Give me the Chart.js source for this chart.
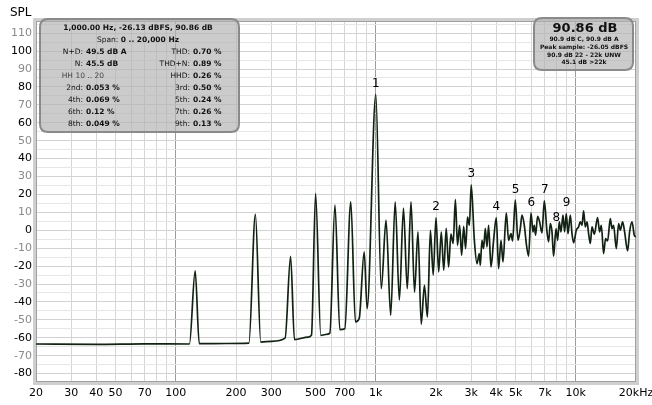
<!DOCTYPE html>
<html>
<head>
<meta charset="utf-8">
<script src="https://cdn.jsdelivr.net/npm/chart.js@4.4.0/dist/chart.umd.min.js"></script>
<style>
  html, body { margin: 0; padding: 0; background: #fff; }
  #wrap { width: 652px; height: 405px; }
</style>
</head>
<body>
<div id="wrap"><canvas id="grafico" width="652" height="405"></canvas></div>
<script>
// spectrum (Hz, dB SPL)
const freqHz = [
  20, 40, 70, 117, 125, 131, 180, 232, 250, 266, 300, 352, 375, 392, 459, 477, 500, 531,
  560, 589, 625, 661, 700, 750, 791, 826, 875, 905, 1000,
  1065, 1125, 1187, 1250, 1312, 1375, 1437, 1500, 1562, 1625, 1687, 1750, 1812, 1875,
  1937, 2000, 2062, 2125, 2187, 2250, 2312, 2375, 2437, 2500, 2562, 2625, 2687, 2750,
  2812, 2875, 2937, 3000,
  3108, 3206, 3292, 3330, 3396, 3459, 3528, 3597, 3664, 3767, 3882, 4004, 4111, 4227,
  4325, 4492, 4613, 4742, 4831, 4983, 5140, 5278, 5383, 5527, 5656, 5808, 5970, 6109,
  6202, 6295, 6442, 6592, 6776, 6959, 7178, 7311, 7456, 7603, 7745, 7962, 8110, 8270,
  8433, 8630, 8790, 8964, 9141, 9387, 9572, 9750, 10060, 10330, 10530, 10740, 10940,
  11160, 11380, 11590, 11820, 12050, 12380, 12850, 13150, 13420, 13770, 14090, 14420,
  14880, 15170, 15450, 15940, 16370, 16690, 17140, 17540, 18160, 18580, 19100, 19610, 20000
];
const splDb = [
  -63.5, -63.7, -63.4, -63.5, -22.7, -63.3, -63.2, -63.0, 8.9, -62.4, -62.0, -60.2, -14.5, -61.0, -59.6, -58.5, 20.5, -58.7,
  -58.2, -57.5, 14.0, -55.5, -55.0, 15.8, -51.2, -49.3, -12.1, -43.8, 75.8,
  -32.6, 5.6, -47.5, 15.8, -39.0, 12.4, -32.6, 15.8, -34.5, -0.9, -52.5, -30.7, -48.4, 0.0,
  -25.0, 7.1, -23.3, -1.0, -22.3, 1.0, -20.5, -2.2, -7.4, 17.1, -8.4, 2.8, -14.0, 2.2,
  -10.2, 7.4, 2.8, 25.4,
  -5.0, -18.6, -13.0, -19.6, -5.6, -10.2, 1.0, -9.3, 2.8, -20.5, -5.6, 7.1, -21.4, -5.6,
  -17.7, 9.7, -5.6, -1.9, -6.0, 16.8, -5.6, 0.9, 8.4, 2.8, -7.4, -14.5, 9.7, -0.9,
  2.8, -2.8, 7.8, 4.7, -1.5, 16.4, -0.9, -6.5, 3.7, -0.9, -14.5, 0.9, -5.6, 4.7,
  -0.9, 8.4, -0.9, 9.3, -1.9, 8.4, -1.9, -7.0, 0.0, 1.9, 4.7, 2.8, 10.8,
  1.9, 4.7, -1.9, -7.4, 1.9, -2.2, 7.1, -0.9, 2.8, -13.0, -4.6, -6.0,
  6.5, 0.9, 2.8, -10.2, 3.7, 0.0, 4.7, -0.9, -11.5, -0.9, 4.7, -2.8, -3.7
];

// harmonic markers
const harmonicHz = [1000, 2000, 3000, 4000, 5000, 6000, 7000, 8000, 9000];
const harmonicDb = [75.8, 7.1, 25.4, 7.1, 16.8, 9.7, 16.4, 0.9, 9.3];
const harmonicLabels = ['1', '2', '3', '4', '5', '6', '7', '8', '9'];

// axes
const xGridHz = [20, 30, 40, 50, 60, 70, 80, 90, 100, 200, 300, 400, 500, 600, 700, 800, 900,
  1000, 2000, 3000, 4000, 5000, 6000, 7000, 8000, 9000, 10000, 20000];
const xGridLabels = ['20', '30', '40', '50', '', '70', '', '', '100', '200', '300', '', '500', '', '700', '', '',
  '1k', '2k', '3k', '4k', '5k', '', '7k', '', '', '10k', '20kHz'];
const yMin = -84.7, yMax = 116.8;

// info boxes text
const infoHead = ['1,000.00 Hz, -26.13 dBFS, 90.86 dB'];
const infoLeft = [
  ['N+D:', '49.5 dB A'], ['N:', '45.5 dB'], ['', ''], ['2nd:', '0.053 %'],
  ['4th:', '0.069 %'], ['6th:', '0.12 %'], ['8th:', '0.049 %']
];
const infoRight = [
  ['THD:', '0.70 %'], ['THD+N:', '0.89 %'], ['HHD:', '0.26 %'], ['3rd:', '0.50 %'],
  ['5th:', '0.24 %'], ['7th:', '0.26 %'], ['9th:', '0.13 %']
];
const levelLines = ['90.9 dB C, 90.9 dB A', 'Peak sample: -26.05 dBFS', '90.9 dB 22 - 22k UNW', '45.1 dB >22k'];

const FONT = '"DejaVu Sans", sans-serif';

function caixa(ctx, x, y, w, h, r) {
    ctx.beginPath();
    ctx.moveTo(x + r, y);
    ctx.lineTo(x + w - r, y);
    ctx.quadraticCurveTo(x + w, y, x + w, y + r);
    ctx.lineTo(x + w, y + h - r);
    ctx.quadraticCurveTo(x + w, y + h, x + w - r, y + h);
    ctx.lineTo(x + r, y + h);
    ctx.quadraticCurveTo(x, y + h, x, y + h - r);
    ctx.lineTo(x, y + r);
    ctx.quadraticCurveTo(x, y, x + r, y);
    ctx.closePath();
    ctx.fillStyle = 'rgba(178,178,178,0.68)';
    ctx.fill();
    ctx.lineWidth = 2;
    ctx.strokeStyle = '#8a8a8a';
    ctx.stroke();
}

function par(ctx, x, y, label, valor, size) {
    ctx.textBaseline = 'middle';
    ctx.fillStyle = '#111';
    ctx.font = size + 'px ' + FONT;
    ctx.textAlign = 'right';
    ctx.fillText(label, x, y);
    ctx.font = 'bold ' + size + 'px ' + FONT;
    ctx.textAlign = 'left';
    ctx.fillText(valor, x + 3, y);
}

const overlay = {
    id: 'overlay',
    beforeDatasetsDraw(chart) {
        const a = chart.chartArea;
        const ctx = chart.ctx;
        ctx.save();
        ctx.strokeStyle = '#cfcfcf';
        ctx.lineWidth = 3;
        ctx.strokeRect(a.left - 1.5, a.top - 1.5, a.right - a.left + 3, a.bottom - a.top + 3);
        ctx.strokeStyle = '#a0a0a0';
        ctx.lineWidth = 1;
        ctx.strokeRect(a.left + 0.5, a.top + 0.5, a.right - a.left - 1, a.bottom - a.top - 1);
        ctx.restore();
    },
    afterDatasetsDraw(chart) {
        const ctx = chart.ctx;
        const xs = chart.scales.x, ys = chart.scales.y;
        ctx.save();

        // harmonic numbers
        ctx.font = '12px ' + FONT;
        ctx.fillStyle = '#000';
        ctx.textAlign = 'center';
        ctx.textBaseline = 'middle';
        harmonicHz.forEach((f, i) => {
            ctx.fillText(harmonicLabels[i], xs.getPixelForValue(f), ys.getPixelForValue(harmonicDb[i]) - 10.5);
        });

        // SPL title
        ctx.font = '12px ' + FONT;
        ctx.textAlign = 'left';
        ctx.fillText('SPL', 10, 12.5);

        // left box
        caixa(ctx, 40, 19, 199, 113, 8);
        ctx.fillStyle = '#111';
        ctx.textAlign = 'center';
        ctx.font = 'bold 7.5px ' + FONT;
        ctx.fillText(infoHead[0], 138, 28.5);
        ctx.font = '7.5px ' + FONT;
        const w1 = ctx.measureText('Span: ').width;
        ctx.font = 'bold 7.5px ' + FONT;
        const w2 = ctx.measureText('0 .. 20,000 Hz').width;
        const sx = 138 - (w1 + w2) / 2;
        ctx.textAlign = 'left';
        ctx.font = '7.5px ' + FONT;
        ctx.fillText('Span: ', sx, 40.5);
        ctx.font = 'bold 7.5px ' + FONT;
        ctx.fillText('0 .. 20,000 Hz', sx + w1, 40.5);

        for (let i = 0; i < infoLeft.length; i++) {
            const y = 52.5 + i * 12;
            if (infoLeft[i][0]) par(ctx, 83, y, infoLeft[i][0], infoLeft[i][1], 7.5);
            par(ctx, 190, y, infoRight[i][0], infoRight[i][1], 7.5);
        }
        ctx.font = '7.5px ' + FONT;
        ctx.fillStyle = '#444';
        ctx.textAlign = 'right';
        ctx.fillText('HH 10 .. 20', 104, 76.5);

        // right box
        caixa(ctx, 534, 18, 99, 52, 8);
        ctx.fillStyle = '#111';
        ctx.textAlign = 'center';
        ctx.font = 'bold 13px ' + FONT;
        ctx.fillText('90.86 dB', 585, 28.5);
        ctx.font = 'bold 6px ' + FONT;
        levelLines.forEach((t, i) => ctx.fillText(t, 584, 39.5 + i * 7.8));

        ctx.restore();
    }
};

const ctx = document.getElementById('grafico').getContext('2d');

const grafico = new Chart(ctx, {
    type: 'line',
    data: {
        datasets: [{
            data: freqHz.map((f, i) => ({ x: f, y: splDb[i] })),
            borderColor: '#122212',
            borderWidth: 1.7,
            pointRadius: 0,
            cubicInterpolationMode: 'monotone',
            fill: false
        }]
    },
    options: {
        responsive: false,
        animation: false,
        layout: { padding: { top: 21, right: 16, left: 0, bottom: 0 } },
        plugins: {
            legend: { display: false },
            tooltip: { enabled: false },
            title: { display: false }
        },
        scales: {
            x: {
                type: 'logarithmic',
                min: 20,
                max: 20000,
                afterBuildTicks(scale) {
                    scale.ticks = xGridHz.map(v => ({ value: v }));
                },
                afterFit(scale) {
                    scale.height = 23;
                    scale.paddingLeft = 0;
                    scale.paddingRight = 0;
                },
                border: { display: false },
                grid: {
                    drawTicks: false,
                    color: c => [100, 1000, 10000].includes(c.tick && c.tick.value) ? '#9c9c9c' : '#d6d6d6',
                    lineWidth: 1
                },
                ticks: {
                    autoSkip: false,
                    maxRotation: 0,
                    padding: 5,
                    color: '#000',
                    font: { family: 'DejaVu Sans', size: 11 },
                    callback: (v, i) => xGridLabels[i]
                }
            },
            y: {
                min: yMin,
                max: yMax,
                afterFit(scale) {
                    scale.width = 36;
                    scale.paddingTop = 0;
                    scale.paddingBottom = 0;
                },
                border: { display: false },
                grid: {
                    drawTicks: false,
                    color: c => (Math.round(c.tick.value) % 10 === 0) ? '#d2d2d2' : '#e6e6e6'
                },
                ticks: {
                    stepSize: 5,
                    includeBounds: false,
                    autoSkip: false,
                    padding: 4,
                    font: { family: 'DejaVu Sans', size: 11 },
                    color: c => (Math.round(c.tick.value) % 20 === 0) ? '#000' : '#8a8a8a',
                    callback: v => {
                        const n = Math.round(v);
                        return (n % 10 === 0 && n >= -80 && n <= 110) ? String(n) : '';
                    }
                }
            }
        }
    },
    plugins: [overlay]
});
</script>
</body>
</html>
